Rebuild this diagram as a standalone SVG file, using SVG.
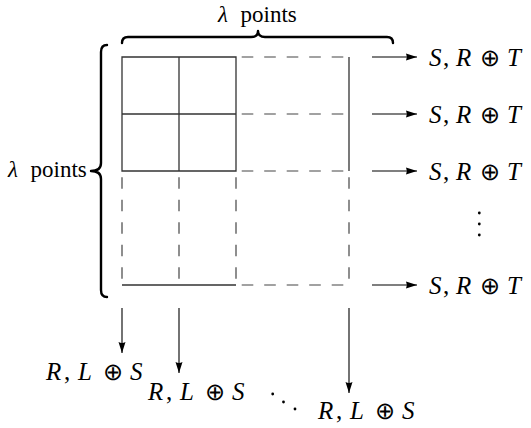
<svg xmlns="http://www.w3.org/2000/svg" width="531" height="428" viewBox="0 0 531 428">
<style>
.solid{stroke:#333;stroke-width:1.3;fill:none}
.dash{stroke:#444;stroke-width:1.2;fill:none;stroke-dasharray:11.6 10.9}
.brace{stroke:#000;stroke-width:2.4;fill:none;stroke-linecap:round;stroke-linejoin:round}
.arr{stroke:#000;stroke-width:1.1;fill:none}
.lbl{font-family:'Liberation Serif',serif;font-size:25px;fill:#000}
.pts{font-family:'Liberation Serif',serif;font-size:23px;fill:#000}
.it{font-style:italic}
.op{font-family:'DejaVu Sans',sans-serif;font-weight:200;font-style:normal;font-size:24px}
</style>
<defs>
<marker id="ah" markerWidth="12" markerHeight="8" refX="11" refY="4" orient="auto" markerUnits="userSpaceOnUse">
<path d="M0,0.5 L11,4 L0,7.5 Q1.8,4 0,0.5 Z" fill="#000"/>
</marker>
</defs>
<rect width="531" height="428" fill="#fff"/>
<g id="grid">
<path class="solid" d="M122,57 H236 V171 H122 Z M179,57 V171 M122,114 H236 M349,57 V171 M122,285 H236"/>
<path class="dash" d="M241.7,57 H343.3 M241.7,114 H343.3 M241.7,171 H343.3 M241.7,285 H343.3"/>
<path class="dash" d="M122,177.2 V278.8 M179,177.2 V278.8 M236,177.2 V278.8 M349,177.2 V278.8"/>
</g>
<g id="top-brace">
<path class="brace" d="M122,43 C122,39 124,37 128,37 L251,37 C255,37 258,35 258,31 C258,35 261,37 265,37 L387,37 C391,37 393,39 393,43"/>
<text class="pts" x="218" y="22"><tspan class="it">λ</tspan><tspan x="240.5">points</tspan></text>
</g>
<g id="left-brace">
<path class="brace" d="M107,45 C103,45 101,47 101,52 L101,163 C101,168 98,171 91,171 C98,171 101,174 101,179 L101,290 C101,295 103,297 107,297"/>
<text class="pts" x="8" y="177"><tspan class="it">λ</tspan><tspan x="30.5">points</tspan></text>
</g>
<g id="connectors">
<path class="arr" marker-end="url(#ah)" d="M372,57 H417"/>
<path class="arr" marker-end="url(#ah)" d="M372,114 H417"/>
<path class="arr" marker-end="url(#ah)" d="M372,171 H417"/>
<path class="arr" marker-end="url(#ah)" d="M372,285 H417"/>
<path class="arr" marker-end="url(#ah)" d="M122,308 V353"/>
<path class="arr" marker-end="url(#ah)" d="M179,308 V373"/>
<path class="arr" marker-end="url(#ah)" d="M349,308 V393"/>
</g>
<g id="row-labels">
<text class="lbl" y="66"><tspan class="it" x="429">S</tspan><tspan x="443">,</tspan><tspan class="it" x="456">R</tspan><tspan class="op" x="479.5">⊕</tspan><tspan class="it" x="507">T</tspan></text>
<text class="lbl" y="123"><tspan class="it" x="429">S</tspan><tspan x="443">,</tspan><tspan class="it" x="456">R</tspan><tspan class="op" x="479.5">⊕</tspan><tspan class="it" x="507">T</tspan></text>
<text class="lbl" y="180"><tspan class="it" x="429">S</tspan><tspan x="443">,</tspan><tspan class="it" x="456">R</tspan><tspan class="op" x="479.5">⊕</tspan><tspan class="it" x="507">T</tspan></text>
<text class="lbl" y="294"><tspan class="it" x="429">S</tspan><tspan x="443">,</tspan><tspan class="it" x="456">R</tspan><tspan class="op" x="479.5">⊕</tspan><tspan class="it" x="507">T</tspan></text>
<g id="vdots" fill="#000"><circle cx="479.3" cy="213" r="1.4"/><circle cx="479.3" cy="224" r="1.4"/><circle cx="479.3" cy="235" r="1.4"/></g>
</g>
<g id="col-labels">
<text class="lbl" y="380"><tspan class="it" x="46">R</tspan><tspan x="64">,</tspan><tspan class="it" x="78">L</tspan><tspan class="op" x="102.5">⊕</tspan><tspan class="it" x="130">S</tspan></text>
<text class="lbl" y="400"><tspan class="it" x="148">R</tspan><tspan x="166">,</tspan><tspan class="it" x="180">L</tspan><tspan class="op" x="204.5">⊕</tspan><tspan class="it" x="232">S</tspan></text>
<text class="lbl" y="419"><tspan class="it" x="318">R</tspan><tspan x="336">,</tspan><tspan class="it" x="350">L</tspan><tspan class="op" x="374.5">⊕</tspan><tspan class="it" x="402">S</tspan></text>
<g id="ddots" fill="#000"><circle cx="272.7" cy="394" r="1.4"/><circle cx="283.5" cy="402" r="1.4"/><circle cx="295" cy="409" r="1.4"/></g>
</g>
</svg>
